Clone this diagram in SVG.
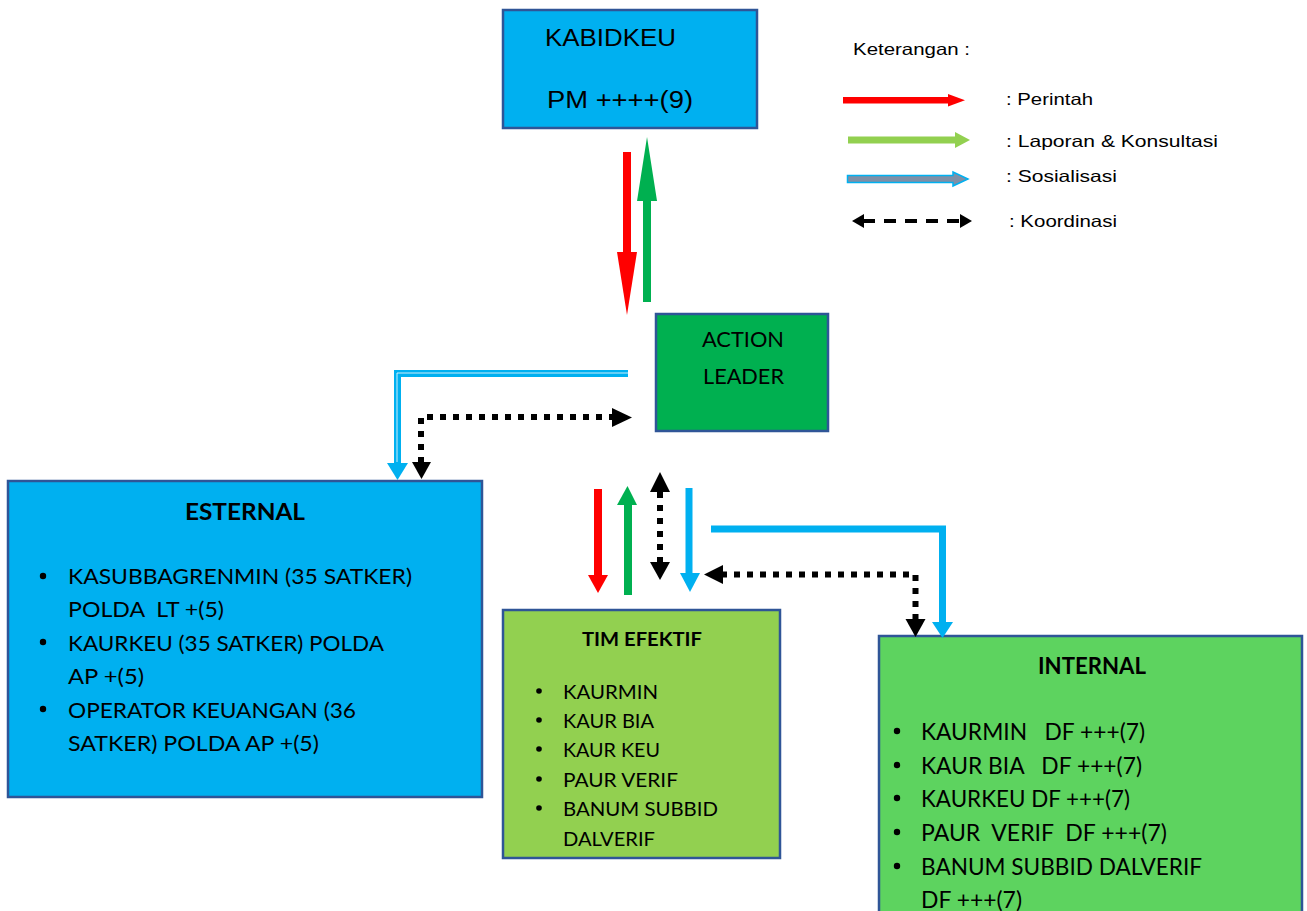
<svg xmlns="http://www.w3.org/2000/svg" width="1307" height="911" viewBox="0 0 1307 911" xml:space="preserve">
<style>
text{white-space:pre}
.box{stroke:#2F5597;stroke-width:2.5}
.ar{font-family:"Liberation Sans",Arial,sans-serif;fill:#000}
.cb{font-family:Lato,"Open Sans",sans-serif;fill:#000}
.b{font-weight:bold}
.red{fill:#FF0000}
.grn{fill:#00B050}
.blu{fill:#00B0F0}
.blk{fill:#000}
.dot{fill:none;stroke:#000;stroke-width:6;stroke-dasharray:6 7}
.bl{fill:none;stroke:#00B0F0;stroke-width:7}
</style>
<rect width="1307" height="911" fill="#fff"/>
<g id="kabidkeu">
<rect class="box" x="503" y="10" width="254" height="118" fill="#00B0F0"/>
<text class="ar" x="545" y="46" font-size="23" textLength="131" lengthAdjust="spacingAndGlyphs">KABIDKEU</text>
<text class="ar" x="547" y="108" font-size="23" textLength="146" lengthAdjust="spacingAndGlyphs">PM ++++(9)</text>
</g>
<g id="action-leader">
<rect class="box" x="656" y="314" width="172" height="117" fill="#00B050"/>
<text class="cb" x="702" y="347" font-size="21" textLength="82" lengthAdjust="spacingAndGlyphs">ACTION</text>
<text class="cb" x="703" y="384" font-size="21" textLength="81" lengthAdjust="spacingAndGlyphs">LEADER</text>
</g>
<g id="esternal">
<rect class="box" x="8" y="481" width="474" height="316" fill="#00B0F0"/>
<text class="cb b" x="185" y="520" font-size="23" textLength="120" lengthAdjust="spacingAndGlyphs">ESTERNAL</text>
<g class="cb" font-size="22">
<circle cx="43" cy="576" r="3.2"/>
<text x="68" y="584" textLength="344" lengthAdjust="spacingAndGlyphs">KASUBBAGRENMIN (35 SATKER)</text>
<text x="68" y="617" textLength="156" lengthAdjust="spacingAndGlyphs">POLDA  LT +(5)</text>
<circle cx="43" cy="642" r="3.2"/>
<text x="68" y="651" textLength="316" lengthAdjust="spacingAndGlyphs">KAURKEU (35 SATKER) POLDA</text>
<text x="68" y="684" textLength="76" lengthAdjust="spacingAndGlyphs">AP +(5)</text>
<circle cx="43" cy="709" r="3.2"/>
<text x="68" y="718" textLength="288" lengthAdjust="spacingAndGlyphs">OPERATOR KEUANGAN (36</text>
<text x="68" y="751" textLength="251" lengthAdjust="spacingAndGlyphs">SATKER) POLDA AP +(5)</text>
</g>
</g>
<g id="tim-efektif">
<rect class="box" x="503" y="610" width="277" height="248" fill="#92D050"/>
<text class="cb b" x="582" y="646" font-size="19.5" textLength="120" lengthAdjust="spacingAndGlyphs">TIM EFEKTIF</text>
<g class="cb" font-size="19.5">
<circle cx="539" cy="691" r="2.8"/>
<text x="563" y="699" textLength="95" lengthAdjust="spacingAndGlyphs">KAURMIN</text>
<circle cx="539" cy="720" r="2.8"/>
<text x="563" y="728" textLength="91" lengthAdjust="spacingAndGlyphs">KAUR BIA</text>
<circle cx="539" cy="749" r="2.8"/>
<text x="563" y="757" textLength="97" lengthAdjust="spacingAndGlyphs">KAUR KEU</text>
<circle cx="539" cy="779" r="2.8"/>
<text x="563" y="787" textLength="115" lengthAdjust="spacingAndGlyphs">PAUR VERIF</text>
<circle cx="539" cy="808" r="2.8"/>
<text x="563" y="816" textLength="155" lengthAdjust="spacingAndGlyphs">BANUM SUBBID</text>
<text x="563" y="846" textLength="92" lengthAdjust="spacingAndGlyphs">DALVERIF</text>
</g>
</g>
<g id="internal">
<rect class="box" x="879" y="636" width="423" height="285" fill="#5DD35F"/>
<text class="cb b" x="1038" y="674" font-size="23" textLength="108" lengthAdjust="spacingAndGlyphs">INTERNAL</text>
<g class="cb" font-size="23">
<circle cx="897" cy="731" r="3.2"/>
<text x="921" y="740" textLength="224" lengthAdjust="spacingAndGlyphs">KAURMIN   DF +++(7)</text>
<circle cx="897" cy="765" r="3.2"/>
<text x="921" y="774" textLength="221" lengthAdjust="spacingAndGlyphs">KAUR BIA   DF +++(7)</text>
<circle cx="897" cy="798" r="3.2"/>
<text x="921" y="807" textLength="209" lengthAdjust="spacingAndGlyphs">KAURKEU DF +++(7)</text>
<circle cx="897" cy="832" r="3.2"/>
<text x="921" y="841" textLength="246" lengthAdjust="spacingAndGlyphs">PAUR  VERIF  DF +++(7)</text>
<circle cx="897" cy="866" r="3.2"/>
<text x="921" y="875" textLength="281" lengthAdjust="spacingAndGlyphs">BANUM SUBBID DALVERIF</text>
<text x="921" y="908" textLength="101" lengthAdjust="spacingAndGlyphs">DF +++(7)</text>
</g>
</g>
<g id="legend">
<text class="ar" x="853" y="55" font-size="16.5" textLength="117" lengthAdjust="spacingAndGlyphs">Keterangan :</text>
<rect x="843" y="97" width="106" height="6.5" fill="#FF0000"/>
<polygon points="948,94 965,100.2 948,106.5" fill="#FF0000"/>
<text class="ar" x="1006" y="105" font-size="16.5" textLength="87" lengthAdjust="spacingAndGlyphs">: Perintah</text>
<rect x="848" y="136.5" width="108" height="7" fill="#92D050"/>
<polygon points="955,132 970,140 955,148" fill="#92D050"/>
<text class="ar" x="1006" y="147" font-size="16.5" textLength="212" lengthAdjust="spacingAndGlyphs">: Laporan &amp; Konsultasi</text>
<path d="M847.5,175.5 H953 V172 L968,179 L953,186 V182.5 H847.5 Z" fill="#7F8FA6" stroke="#00B0F0" stroke-width="1.5"/>
<text class="ar" x="1006" y="182" font-size="16.5" textLength="111" lengthAdjust="spacingAndGlyphs">: Sosialisasi</text>
<line x1="863" y1="221" x2="961" y2="221" stroke="#000" stroke-width="4" stroke-dasharray="12 9"/>
<polygon points="852,221 864,214 864,228" fill="#000"/>
<polygon points="972,221 960,214 960,228" fill="#000"/>
<text class="ar" x="1009" y="227" font-size="16.5" textLength="108" lengthAdjust="spacingAndGlyphs">: Koordinasi</text>
</g>
<g id="connectors">
<rect class="red" x="623" y="152" width="8" height="101"/>
<polygon class="red" points="617,252 637,252 627,315"/>
<rect class="grn" x="643" y="200" width="8" height="102"/>
<polygon class="grn" points="637,201 657,201 647,137"/>
<path class="bl" d="M628,373.5 H397.5 V464"/>
<path d="M628,373 H397 V462" fill="none" stroke="#fff" stroke-width="0.8"/>
<polygon class="blu" points="387,463 408,463 397.5,480"/>
<path class="dot" d="M421,463 V417 H613"/>
<polygon class="blk" points="612,408 632,417.5 612,427"/>
<polygon class="blk" points="412,462 431,462 421.5,479"/>
<rect class="red" x="594" y="489" width="8" height="87"/>
<polygon class="red" points="588,575 608,575 598,593"/>
<rect class="grn" x="624" y="504" width="8" height="91"/>
<polygon class="grn" points="617,505 637,505 627.5,486"/>
<line x1="660" y1="492" x2="660" y2="562" stroke="#000" stroke-width="6" stroke-dasharray="6 7"/>
<polygon class="blk" points="650,492 670,492 660,472"/>
<polygon class="blk" points="650,562 670,562 660,580"/>
<rect class="blu" x="685.5" y="488" width="7" height="86"/>
<polygon class="blu" points="680,573 700,573 690,592"/>
<path class="bl" d="M711,529 H942.5 V623"/>
<polygon class="blu" points="932,622 953,622 942.5,638"/>
<path class="dot" d="M915.5,620 V574.5 H723"/>
<polygon class="blk" points="723,565 723,584 704,574.5"/>
<polygon class="blk" points="905.5,619 925.5,619 915.5,637"/>
</g>
</svg>
